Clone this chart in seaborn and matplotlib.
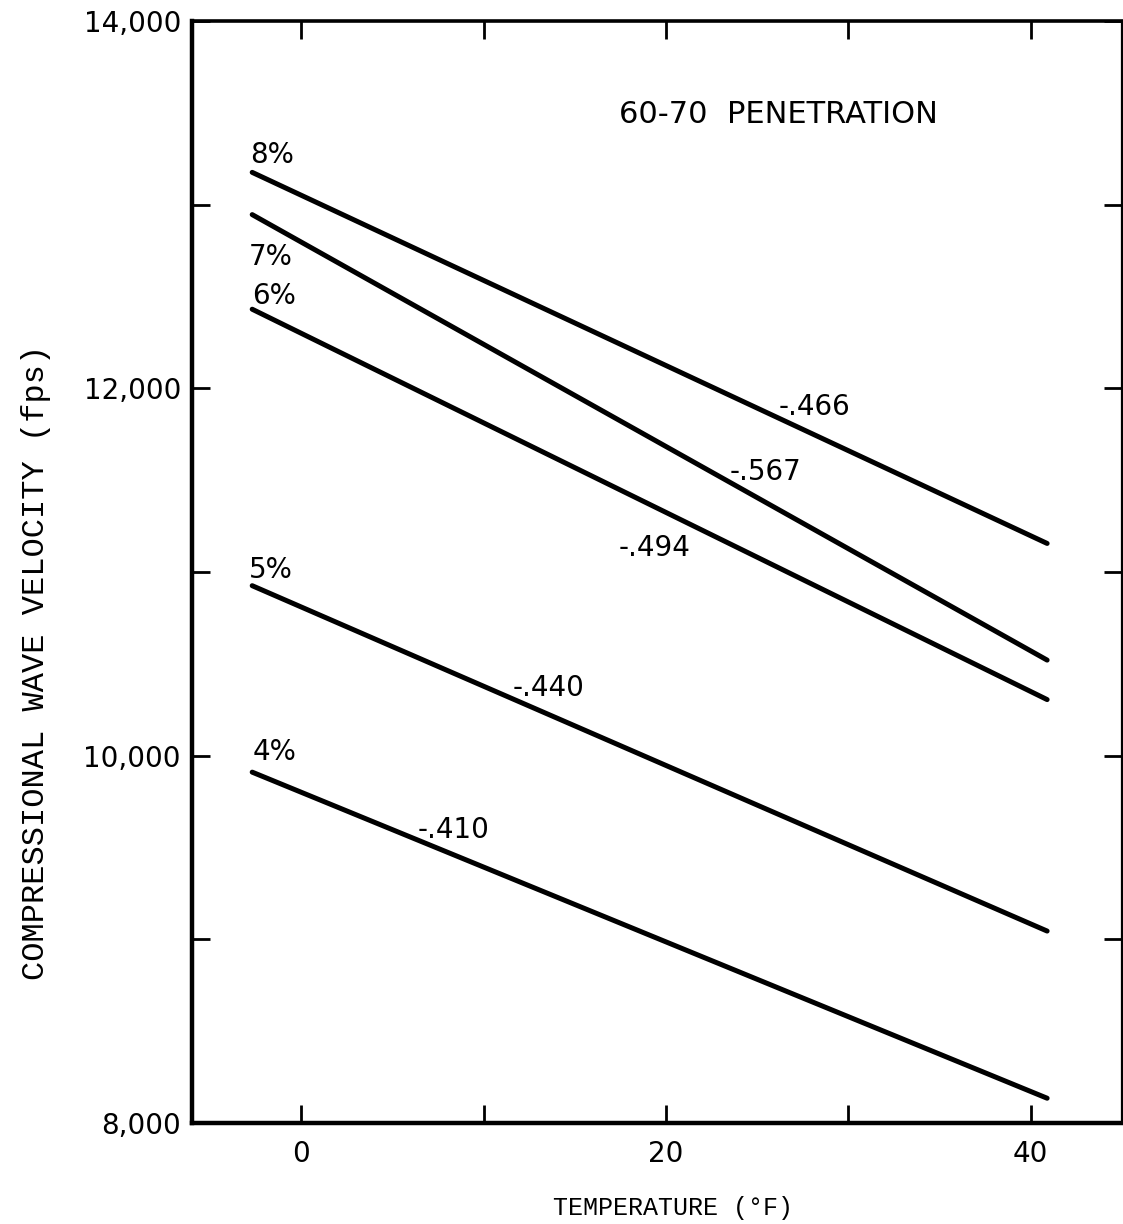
import matplotlib

matplotlib.use("Agg")
import matplotlib.pyplot as plt
import numpy as np
import pandas as pd
import seaborn as sns
from matplotlib.ticker import FuncFormatter, MultipleLocator

# asphalt content curves, velocity (fps) read at the two ends of each line
pct_labels = ["8%", "7%", "6%", "5%", "4%"]
temp_start = [-2.7, -2.7, -2.7, -2.7, -2.7]
temp_end = [40.9, 40.9, 40.9, 40.9, 40.9]
vel_start = [13175, 12945, 12430, 10925, 9910]
vel_end = [11155, 10520, 10305, 9045, 8135]

# label spots (left edge, vertical centre) in data units
pct_label_x = [-2.8, -2.9, -2.7, -2.9, -2.7]
pct_label_y = [13270, 12715, 12500, 11010, 10020]
slope_text = ["-.466", "-.567", "-.494", "-.440", "-.410"]
slope_x = [26.2, 23.5, 17.4, 11.6, 6.4]
slope_y = [11900, 11545, 11130, 10370, 9595]

rows = []
for lab, t0, t1, v0, v1 in zip(pct_labels, temp_start, temp_end, vel_start, vel_end):
    rows.append({"pct": lab, "temp": t0, "velocity": v0})
    rows.append({"pct": lab, "temp": t1, "velocity": v1})
df = pd.DataFrame(rows)

sns.set_theme(style="ticks")
plt.rcParams["font.family"] = ["DejaVu Sans"]
plt.rcParams["text.color"] = "black"
plt.rcParams["axes.labelcolor"] = "black"

fig = plt.figure(figsize=(11.23, 12.24), dpi=100)
ax = fig.add_axes([0.171, 0.0825, 0.828, 0.9005])

sns.lineplot(
    data=df,
    x="temp",
    y="velocity",
    hue="pct",
    palette=["black"] * len(pct_labels),
    linewidth=3.6,
    legend=False,
    ax=ax,
    solid_capstyle="round",
)

ax.set_xlim(-6, 45)
ax.set_ylim(8000, 14000)
ax.xaxis.set_major_locator(MultipleLocator(20))
ax.xaxis.set_minor_locator(MultipleLocator(10))
ax.yaxis.set_major_locator(MultipleLocator(2000))
ax.yaxis.set_minor_locator(MultipleLocator(1000))
ax.yaxis.set_major_formatter(FuncFormatter(lambda v, _: f"{v:,.0f}"))
ax.tick_params(which="both", direction="in", length=13, width=2, colors="black",
               top=True, right=True, labelsize=20, pad=8)
ax.tick_params(axis="x", pad=12)

for side, lw in [("left", 3.2), ("bottom", 3.2), ("top", 2.6), ("right", 1.6)]:
    ax.spines[side].set_linewidth(lw)
    ax.spines[side].set_color("black")

ax.set_xlabel("TEMPERATURE (°F)", family="Liberation Mono", fontsize=18)
ax.set_ylabel("COMPRESSIONAL WAVE VELOCITY (fps)", family="Liberation Mono", fontsize=23)
ax.xaxis.set_label_coords(0.517, -0.066)
ax.yaxis.set_label_coords(-0.152, 0.418)

for lab, x, y in zip(pct_labels, pct_label_x, pct_label_y):
    ax.text(x, y, lab, fontsize=20, ha="left", va="center")
for lab, x, y in zip(slope_text, slope_x, slope_y):
    ax.text(x, y, lab, fontsize=20, ha="left", va="center")
ax.text(17.4, 13490, "60-70  PENETRATION", fontsize=22, ha="left", va="center")

fig.savefig("out.png", dpi=100, facecolor="white")
